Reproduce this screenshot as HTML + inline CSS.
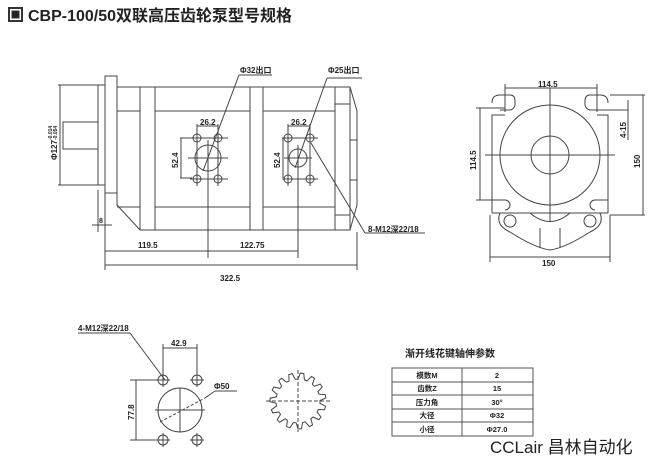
<!DOCTYPE html>
<html><head><meta charset="utf-8"><style>
html,body{margin:0;padding:0;background:#fff;}
svg{display:block;}
text{font-family:"Liberation Sans","Noto Sans CJK SC",sans-serif;fill:#222;font-weight:bold;}
</style></head><body>
<svg width="655" height="465" viewBox="0 0 655 465" xmlns="http://www.w3.org/2000/svg">
<g stroke="#333" stroke-width="1" fill="none">
<rect x="9" y="8" width="13" height="13" stroke-width="2"/>
<rect x="12" y="11" width="7" height="7" fill="#222"/>
</g>
<text x="28" y="21" font-size="16">CBP-100/50双联高压齿轮泵型号规格</text>

<!-- side view -->
<g stroke="#444" stroke-width="1" fill="none">
<rect x="63" y="122" width="35" height="27"/>
<rect x="98" y="85" width="7" height="100"/>
<rect x="105" y="76" width="12" height="117"/>
<polyline points="117,87 350,87 357,111 357,205 350,230 140,230 117,205 117,87"/>
<line x1="117" y1="111" x2="140" y2="111"/><line x1="155" y1="111" x2="250" y2="111"/><line x1="263" y1="111" x2="335" y2="111"/>
<line x1="117" y1="207" x2="140" y2="207"/><line x1="155" y1="207" x2="250" y2="207"/><line x1="263" y1="207" x2="335" y2="207"/>
<line x1="140" y1="87" x2="140" y2="230"/><line x1="155" y1="87" x2="155" y2="230"/>
<line x1="250" y1="87" x2="250" y2="230"/><line x1="263" y1="87" x2="263" y2="230"/>
<line x1="335" y1="87" x2="335" y2="230"/><line x1="350" y1="87" x2="350" y2="230"/>
<line x1="335" y1="104" x2="350" y2="104"/><line x1="335" y1="215" x2="350" y2="215"/>
<line x1="350" y1="140" x2="357" y2="140"/><line x1="350" y1="180" x2="357" y2="180"/>
<!-- port 1 -->
<circle cx="208" cy="158" r="13"/>
<line x1="188" y1="158" x2="228" y2="158"/>
<circle cx="197" cy="138" r="4"/><circle cx="218" cy="138" r="4"/>
<circle cx="197" cy="179" r="4"/><circle cx="218" cy="179" r="4"/>
<line x1="190" y1="138" x2="228" y2="138"/><line x1="190" y1="179" x2="228" y2="179"/>
<line x1="197" y1="131" x2="197" y2="186"/><line x1="218" y1="131" x2="218" y2="186"/>
<line x1="208" y1="140" x2="208" y2="258"/>
<line x1="180" y1="138" x2="192" y2="138"/><line x1="180" y1="178" x2="192" y2="178"/>
<line x1="181" y1="138" x2="181" y2="178"/>
<line x1="197" y1="126" x2="218" y2="126"/><line x1="197" y1="124" x2="197" y2="134"/><line x1="218" y1="124" x2="218" y2="134"/>
<line x1="203" y1="171" x2="239" y2="75"/><line x1="239" y1="75" x2="272" y2="75"/>
<!-- port 2 -->
<circle cx="298" cy="158" r="9"/>
<line x1="284" y1="158" x2="312" y2="158"/>
<circle cx="288" cy="138" r="4"/><circle cx="310" cy="138" r="4"/>
<circle cx="288" cy="179" r="4"/><circle cx="310" cy="179" r="4"/>
<line x1="282" y1="138" x2="318" y2="138"/><line x1="282" y1="179" x2="318" y2="179"/>
<line x1="288" y1="131" x2="288" y2="186"/><line x1="310" y1="131" x2="310" y2="186"/>
<line x1="298" y1="145" x2="298" y2="258"/>
<line x1="282" y1="138" x2="286" y2="138"/><line x1="283" y1="138" x2="283" y2="178"/>
<line x1="288" y1="126" x2="310" y2="126"/><line x1="288" y1="124" x2="288" y2="134"/><line x1="310" y1="124" x2="310" y2="134"/>
<line x1="295" y1="168" x2="327" y2="78"/><line x1="327" y1="78" x2="362" y2="78"/>
<line x1="311" y1="143" x2="365" y2="233"/><line x1="365" y1="233" x2="425" y2="233"/>
<!-- dims -->
<line x1="58" y1="85" x2="98" y2="85"/><line x1="58" y1="185" x2="98" y2="185"/>
<line x1="60" y1="85" x2="60" y2="185"/>
<line x1="98" y1="190" x2="98" y2="232"/><line x1="105" y1="193" x2="105" y2="270"/>
<line x1="92" y1="225" x2="112" y2="225"/>
<line x1="105" y1="251" x2="298" y2="251"/>
<line x1="105" y1="265" x2="357" y2="265"/>
<line x1="357" y1="232" x2="357" y2="270"/>
</g>
<g font-size="8">
<text x="240" y="73">Φ32出口</text>
<text x="328" y="73">Φ25出口</text>
<text x="200" y="125">26.2</text>
<text x="291" y="125">26.2</text>
<text x="368" y="232">8-M12深22/18</text>
<text x="138" y="248">119.5</text>
<text x="240" y="248">122.75</text>
<text x="220" y="281">322.5</text>
<text x="99" y="223" font-size="7">8</text>
<text transform="translate(178,168) rotate(-90)">52.4</text>
<text transform="translate(280,168) rotate(-90)">52.4</text>
<text transform="translate(57,160) rotate(-90)">Φ127</text>
<text transform="translate(52,140) rotate(-90)" font-size="5">-0.014</text>
<text transform="translate(57,140) rotate(-90)" font-size="5">-0.054</text>
</g>

<!-- end view -->
<g stroke="#444" stroke-width="1" fill="none">
<path d="M492,213 L492,115 L505,115 M492,103 Q492,95 500,95 L505,95 L510,95 Q515,95 515,101 L515,103 A6 6 0 0 1 509,110 L500,110"/>
<path d="M608,213 L608,115 L597,115 M608,103 Q608,95 600,95 L595,95 L590,95 Q585,95 585,101 L585,103 A6 6 0 0 0 591,110 L600,110"/>
<path d="M492,200 L505,200 A5 5 0 0 1 505,210 M608,200 L595,200 A5 5 0 0 0 595,210"/>
<line x1="492" y1="213" x2="608" y2="213"/>
<circle cx="550" cy="155" r="50"/>
<circle cx="550" cy="155" r="19"/>
<line x1="485" y1="155" x2="615" y2="155"/>
<line x1="550" y1="88" x2="550" y2="222"/>
<path d="M500,213 Q495,225 510,232 Q535,248 550,250 Q565,248 590,232 Q605,225 600,213"/>
<circle cx="510" cy="221" r="6"/><circle cx="590" cy="221" r="6"/>
<path d="M530,213 Q550,230 570,213"/>
<line x1="540" y1="228" x2="540" y2="248"/><line x1="560" y1="228" x2="560" y2="248"/>
<line x1="505" y1="84" x2="505" y2="112"/><line x1="597" y1="84" x2="597" y2="112"/>
<line x1="505" y1="88" x2="597" y2="88"/>
<line x1="476" y1="108" x2="505" y2="108"/><line x1="476" y1="200" x2="505" y2="200"/>
<line x1="480" y1="108" x2="480" y2="200"/>
<line x1="610" y1="95" x2="645" y2="95"/><line x1="610" y1="215" x2="645" y2="215"/>
<line x1="643" y1="95" x2="643" y2="215"/>
<line x1="600" y1="110" x2="628" y2="110"/><line x1="628" y1="100" x2="628" y2="140"/>
<line x1="490" y1="215" x2="490" y2="262"/><line x1="610" y1="215" x2="610" y2="262"/>
<line x1="490" y1="257" x2="610" y2="257"/>
</g>
<g font-size="8">
<text x="538" y="87">114.5</text>
<text transform="translate(476,170) rotate(-90)">114.5</text>
<text transform="translate(640,168) rotate(-90)">150</text>
<text transform="translate(626,138) rotate(-90)">4-15</text>
<text x="542" y="266">150</text>
</g>

<!-- flange view -->
<g stroke="#444" stroke-width="1" fill="none">
<line x1="78" y1="333" x2="130" y2="333"/><line x1="130" y1="333" x2="165" y2="380"/>
<circle cx="180" cy="410" r="22"/>
<line x1="155" y1="410" x2="205" y2="410"/><line x1="180" y1="388" x2="180" y2="432"/>
<line x1="160" y1="422" x2="205" y2="398" stroke-dasharray="3,2"/>
<line x1="205" y1="398" x2="215" y2="391"/><line x1="215" y1="391" x2="237" y2="391"/>
<circle cx="163" cy="380" r="5"/><circle cx="197" cy="380" r="5"/>
<circle cx="163" cy="440" r="5"/><circle cx="197" cy="440" r="5"/>
<line x1="156" y1="380" x2="170" y2="380"/><line x1="163" y1="373" x2="163" y2="387"/>
<line x1="190" y1="380" x2="204" y2="380"/><line x1="197" y1="373" x2="197" y2="387"/>
<line x1="156" y1="440" x2="170" y2="440"/><line x1="163" y1="433" x2="163" y2="447"/>
<line x1="190" y1="440" x2="204" y2="440"/><line x1="197" y1="433" x2="197" y2="447"/>
<line x1="163" y1="344" x2="163" y2="374"/><line x1="197" y1="344" x2="197" y2="374"/>
<line x1="163" y1="348" x2="197" y2="348"/>
<line x1="130" y1="380" x2="157" y2="380"/><line x1="130" y1="440" x2="157" y2="440"/>
<line x1="136" y1="380" x2="136" y2="440"/>
<path d="M298,379 L300.3,373.1 L303.8,373.6 L304.4,379.9 L306.9,380.9 L311.5,376.5 L314.5,378.3 L312.4,384.3 L314.3,386.3 L320.3,384.1 L322.2,387 L317.9,391.6 L318.9,394.2 L325.3,394.6 L325.8,398.1 L320,400.5 L319.9,403.3 L325.5,406.2 L324.6,409.7 L318.3,409.5 L317.1,412 L321,417 L318.8,419.7 L313.1,417 L310.9,418.8 L312.5,425 L309.4,426.6 L305.2,421.8 L302.6,422.5 L301.5,428.8 L298,429 L296.2,422.9 L293.4,422.5 L289.9,427.8 L286.6,426.6 L287.4,420.3 L285.1,418.8 L279.7,422.2 L277.2,419.7 L280.5,414.3 L278.9,412 L272.7,412.9 L271.4,409.7 L276.6,406 L276.1,403.3 L270,401.6 L270.2,398.1 L276.4,396.9 L277.1,394.2 L272.2,390.2 L273.8,387 L279.9,388.4 L281.7,386.3 L278.8,380.6 L281.5,378.3 L286.6,382.2 L289.1,380.9 L288.8,374.6 L292.2,373.6 L295.2,379.2 Z"/>
<line x1="266" y1="401" x2="330" y2="401" stroke-dasharray="4,2"/>
<line x1="298" y1="370" x2="298" y2="432" stroke-dasharray="4,2"/>
</g>
<g font-size="8">
<text x="78" y="331">4-M12深22/18</text>
<text x="171" y="346">42.9</text>
<text x="214" y="389">Φ50</text>
<text transform="translate(134,420) rotate(-90)">77.8</text>
</g>

<!-- table -->
<text x="405" y="357" font-size="10">渐开线花键轴伸参数</text>
<g stroke="#555" stroke-width="1" fill="none">
<rect x="392" y="368" width="141" height="68"/>
<line x1="462" y1="368" x2="462" y2="436"/>
<line x1="392" y1="382" x2="533" y2="382"/>
<line x1="392" y1="395" x2="533" y2="395"/>
<line x1="392" y1="409" x2="533" y2="409"/>
<line x1="392" y1="422" x2="533" y2="422"/>
</g>
<g font-size="7.5" text-anchor="middle">
<text x="427" y="378">模数M</text><text x="497" y="378">2</text>
<text x="427" y="391">齿数Z</text><text x="497" y="391">15</text>
<text x="427" y="405">压力角</text><text x="497" y="405">30°</text>
<text x="427" y="418">大径</text><text x="497" y="418">Φ32</text>
<text x="427" y="432">小径</text><text x="497" y="432">Φ27.0</text>
</g>
<rect x="488" y="437" width="150" height="20" fill="#fff"/>
<text x="490" y="453" font-size="17" style="font-weight:normal" fill="#222">CCLair 昌林自动化</text>
</svg>
</body></html>
